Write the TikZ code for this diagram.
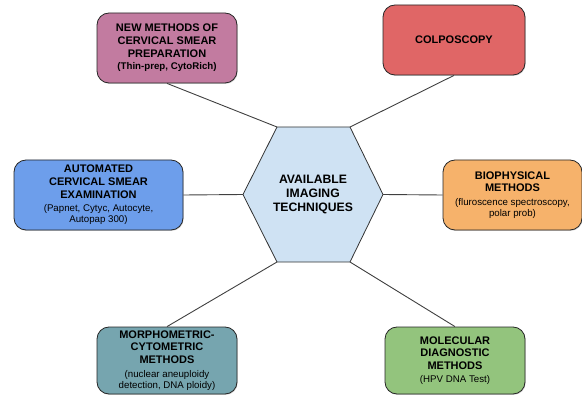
\documentclass[tikz,border=0pt]{standalone}
\usepackage{fontspec}
\setmainfont{Liberation Sans}
\usetikzlibrary{positioning,shadows}
\definecolor{boxpink}{HTML}{C27BA0}
\definecolor{boxred}{HTML}{E06666}
\definecolor{boxblue}{HTML}{6D9EEB}
\definecolor{boxorange}{HTML}{F6B26B}
\definecolor{boxteal}{HTML}{76A5AF}
\definecolor{boxgreen}{HTML}{93C47D}
\definecolor{hexblue}{HTML}{CFE2F3}
\newcommand{\ttlfont}{\fontsize{11}{12.7}\selectfont\bfseries}
\newcommand{\subfont}{\fontsize{9.7}{11}\selectfont\mdseries}
\tikzset{
  techbox/.style={draw=black!85, rounded corners=12pt, line width=0.8pt,
    minimum width=140pt, minimum height=70pt, align=center, inner sep=2pt,
    font=\ttlfont, drop shadow={shadow xshift=0.7pt, shadow yshift=-0.9pt, opacity=0.35}},
  link/.style={draw=black!75, line width=0.9pt},
  hexshape/.style={draw=black!80, line width=0.8pt, fill=hexblue}
}

\begin{document}
\begin{tikzpicture}[x=1pt, y=-1pt]
  \useasboundingbox (0,0) rectangle (582,396);

  % outer boxes
  \node[techbox, fill=boxpink] (newmeth) at (167,48)
    {NEW METHODS OF\\CERVICAL SMEAR\\PREPARATION\\{\fontsize{9.7}{11}\selectfont (Thin-prep, CytoRich)}};
  \node[techbox, fill=boxred, minimum width=142pt] (colpo) at (454,40) {COLPOSCOPY};
  \node[techbox, fill=boxblue, minimum width=169pt] (autom) at (98.5,195)
    {AUTOMATED\\CERVICAL SMEAR\\EXAMINATION\\[1pt]{\subfont (Papnet, Cytyc, Autocyte,}\\[-1.7pt]{\subfont Autopap 300)}};
  \node[techbox, fill=boxorange, minimum width=139pt] (biophys) at (512.5,195)
    {BIOPHYSICAL\\METHODS\\[1pt]{\subfont (fluroscence spectroscopy,}\\[-1.7pt]{\subfont polar prob)}};
  \node[techbox, fill=boxteal, minimum height=67pt] (morpho) at (167,360.5)
    {MORPHOMETRIC-\\CYTOMETRIC\\METHODS\\[1pt]{\subfont (nuclear aneuploidy}\\[-1.7pt]{\subfont detection, DNA ploidy)}};
  \node[techbox, fill=boxgreen, minimum height=67pt] (molec) at (455,360.5)
    {MOLECULAR\\DIAGNOSTIC\\METHODS\\{\subfont (HPV DNA Test)}};

  % central hexagon
  \coordinate (hl) at (243,194.5);
  \coordinate (htl) at (277,127);
  \coordinate (htr) at (350,127);
  \coordinate (hr) at (383,194.5);
  \coordinate (hbr) at (350,262);
  \coordinate (hbl) at (277,262);
  \draw[hexshape] (hl) -- (htl) -- (htr) -- (hr) -- (hbr) -- (hbl) -- cycle;
  \node[align=center, font=\fontsize{12.2}{14.3}\selectfont\bfseries] (centre) at (313,194.5)
    {AVAILABLE\\IMAGING\\TECHNIQUES};

  % connectors
  \draw[link] (htl) -- (newmeth.south);
  \draw[link] (htr) -- (colpo.south);
  \draw[link] (hl) -- (autom.east);
  \draw[link] (hr) -- (biophys.west);
  \draw[link] (hbl) -- (morpho.north);
  \draw[link] (hbr) -- (molec.north);
\end{tikzpicture}
\end{document}
